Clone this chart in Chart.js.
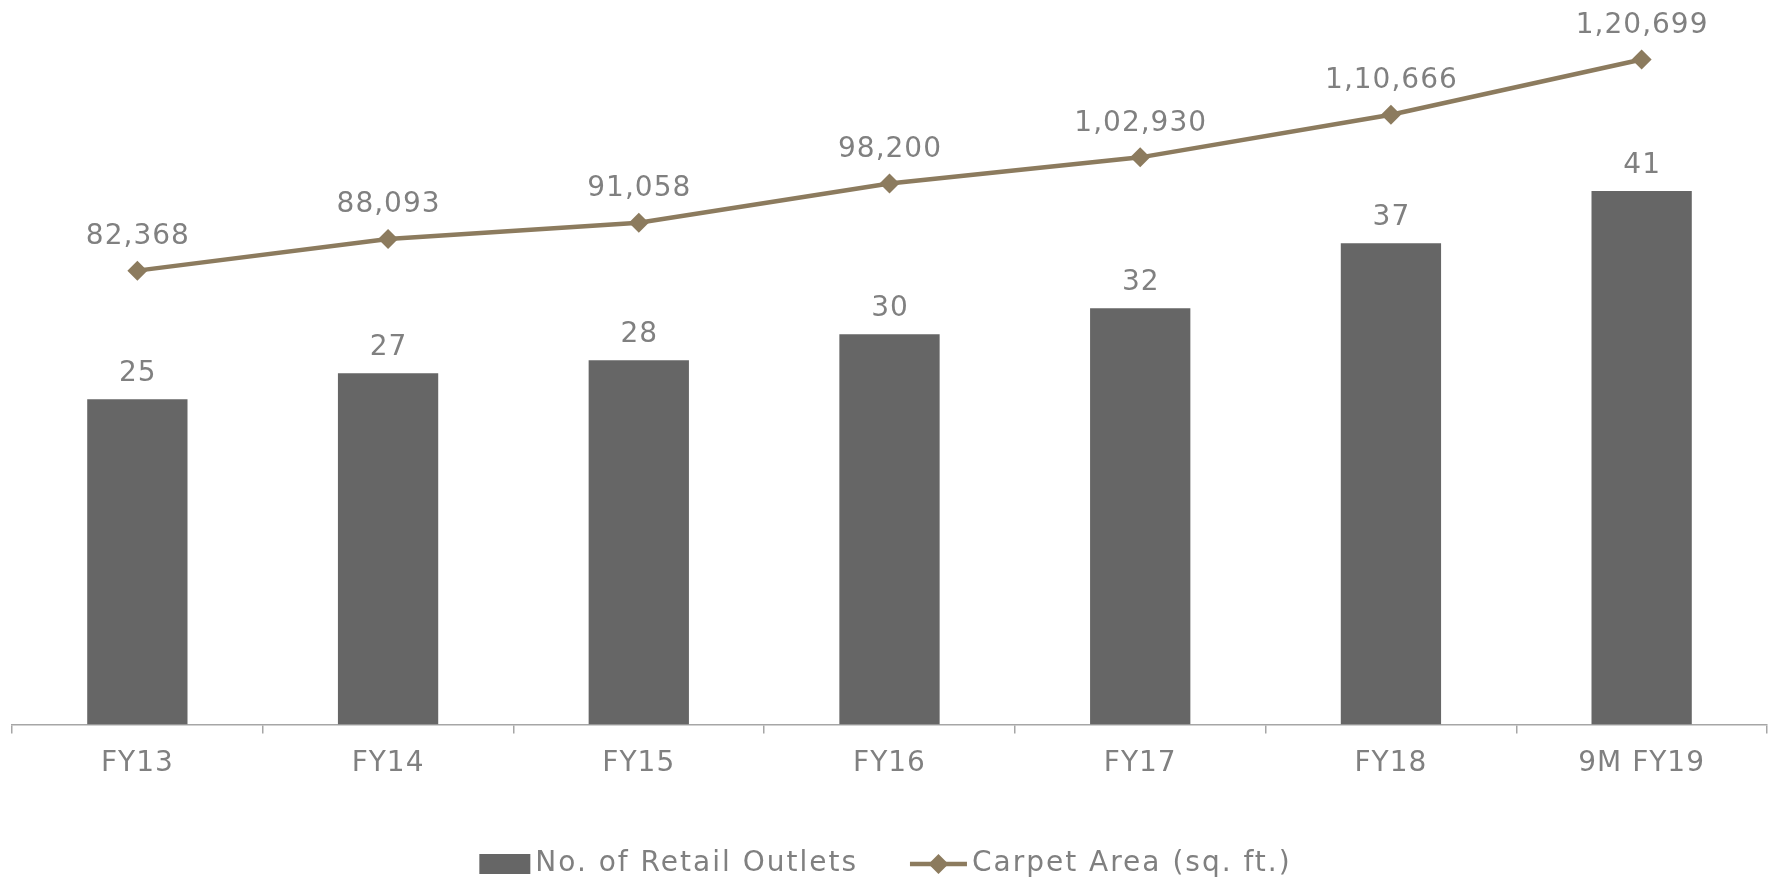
<!DOCTYPE html>
<html>
<head>
<meta charset="utf-8">
<script src="https://cdn.jsdelivr.net/npm/chart.js@4"></script>
<style>
  html, body { margin: 0; padding: 0; background: #ffffff; }
  #wrap { width: 1777px; height: 882px; position: relative; }
</style>
</head>
<body>
<div id="wrap"><canvas id="c"></canvas></div>
<script>
const categories = ["FY13", "FY14", "FY15", "FY16", "FY17", "FY18", "9M FY19"];
const outlets = [25, 27, 28, 30, 32, 37, 41];
const carpetArea = [82368, 88093, 91058, 98200, 102930, 110666, 120699];
const seriesNames = ["No. of Retail Outlets", "Carpet Area (sq. ft.)"];

const BAR_COLOR = "#666666";
const LINE_COLOR = "#8c7b5e";
const TEXT_COLOR = "#808080";
const FONT = "'DejaVu Sans', sans-serif";
const FW = 400;
const FS = 28;
const LS = "1px";
const LEGEND_LS = "2px";

function indianFormat(n) {
  const s = String(Math.round(n));
  if (s.length <= 3) return s;
  const last3 = s.slice(-3);
  let rest = s.slice(0, -3);
  const parts = [];
  while (rest.length > 2) { parts.unshift(rest.slice(-2)); rest = rest.slice(0, -2); }
  if (rest.length) parts.unshift(rest);
  return parts.join(",") + "," + last3;
}

const spacingPlugin = {
  id: "spacing",
  beforeLayout(chart) { chart.ctx.letterSpacing = LS; },
  beforeDraw(chart) { chart.ctx.letterSpacing = LS; }
};

const labelPlugin = {
  id: "valueLabels",
  afterDatasetsDraw(chart) {
    const ctx = chart.ctx;
    ctx.save();
    ctx.letterSpacing = LS;
    ctx.fillStyle = TEXT_COLOR;
    ctx.font = FW + " " + FS + "px " + FONT;
    ctx.textAlign = "center";
    ctx.textBaseline = "middle";
    chart.data.datasets.forEach((ds, i) => {
      const meta = chart.getDatasetMeta(i);
      meta.data.forEach((el, j) => {
        const v = ds.data[j];
        const off = ds.type === "line" ? 34 : 25;
        ctx.fillText(indianFormat(v), el.x + 0.5, el.y - off);
      });
    });
    ctx.restore();
  }
};

const legendPlugin = {
  id: "customLegend",
  afterDraw(chart) {
    const ctx = chart.ctx;
    ctx.save();
    ctx.letterSpacing = LEGEND_LS;
    ctx.font = FW + " " + FS + "px " + FONT;
    ctx.textBaseline = "middle";
    ctx.textAlign = "left";
    const y = 864;
    const boxW = 51, lineW = 57, gapText = 5, gapItems = 52;
    const w1 = ctx.measureText(seriesNames[0]).width;
    const w2 = ctx.measureText(seriesNames[1]).width;
    const total = boxW + gapText + w1 + gapItems + lineW + gapText + w2;
    let x = (chart.width - total) / 2 - 3;
    ctx.fillStyle = BAR_COLOR;
    ctx.fillRect(x, y - 10, boxW, 20);
    x += boxW + gapText;
    ctx.fillStyle = TEXT_COLOR;
    ctx.fillText(seriesNames[0], x, y);
    x += w1 + gapItems;
    ctx.strokeStyle = LINE_COLOR;
    ctx.lineWidth = 4.5;
    ctx.beginPath();
    ctx.moveTo(x, y);
    ctx.lineTo(x + lineW, y);
    ctx.stroke();
    ctx.fillStyle = LINE_COLOR;
    const cx = x + lineW / 2, r = 10;
    ctx.beginPath();
    ctx.moveTo(cx, y - r); ctx.lineTo(cx + r, y); ctx.lineTo(cx, y + r); ctx.lineTo(cx - r, y);
    ctx.closePath(); ctx.fill();
    x += lineW + gapText;
    ctx.fillStyle = TEXT_COLOR;
    ctx.fillText(seriesNames[1], x, y);
    ctx.restore();
  }
};

new Chart(document.getElementById("c"), {
  data: {
    labels: categories,
    datasets: [
      {
        type: "line",
        label: seriesNames[1],
        data: carpetArea,
        yAxisID: "y2",
        borderColor: LINE_COLOR,
        backgroundColor: LINE_COLOR,
        borderWidth: 4.5,
        pointStyle: "rectRot",
        pointRadius: 10,
        pointHoverRadius: 10,
        pointBackgroundColor: LINE_COLOR,
        pointBorderWidth: 0,
        tension: 0,
        clip: false,
        order: 0
      },
      {
        type: "bar",
        label: seriesNames[0],
        data: outlets,
        yAxisID: "y",
        backgroundColor: BAR_COLOR,
        categoryPercentage: 1.0,
        barPercentage: 0.4,
        order: 1
      }
    ]
  },
  options: {
    responsive: true,
    maintainAspectRatio: false,
    animation: false,
    layout: { padding: { top: 22, left: 12, right: 10, bottom: 87 } },
    plugins: { legend: { display: false }, tooltip: { enabled: false } },
    scales: {
      x: {
        offset: true,
        grid: { offset: true, drawOnChartArea: false, drawTicks: true, tickLength: 9, color: "#a6a6a6", lineWidth: 1.5 },
        border: { display: true, color: "#a6a6a6", width: 1.5 },
        ticks: { color: TEXT_COLOR, padding: 14, font: { family: FONT, size: FS, weight: FW } }
      },
      y: { display: false, min: 0, max: 54 },
      y2: { display: false, min: 0, max: 127500, position: "right" }
    }
  },
  plugins: [spacingPlugin, labelPlugin, legendPlugin]
});
</script>
</body>
</html>
